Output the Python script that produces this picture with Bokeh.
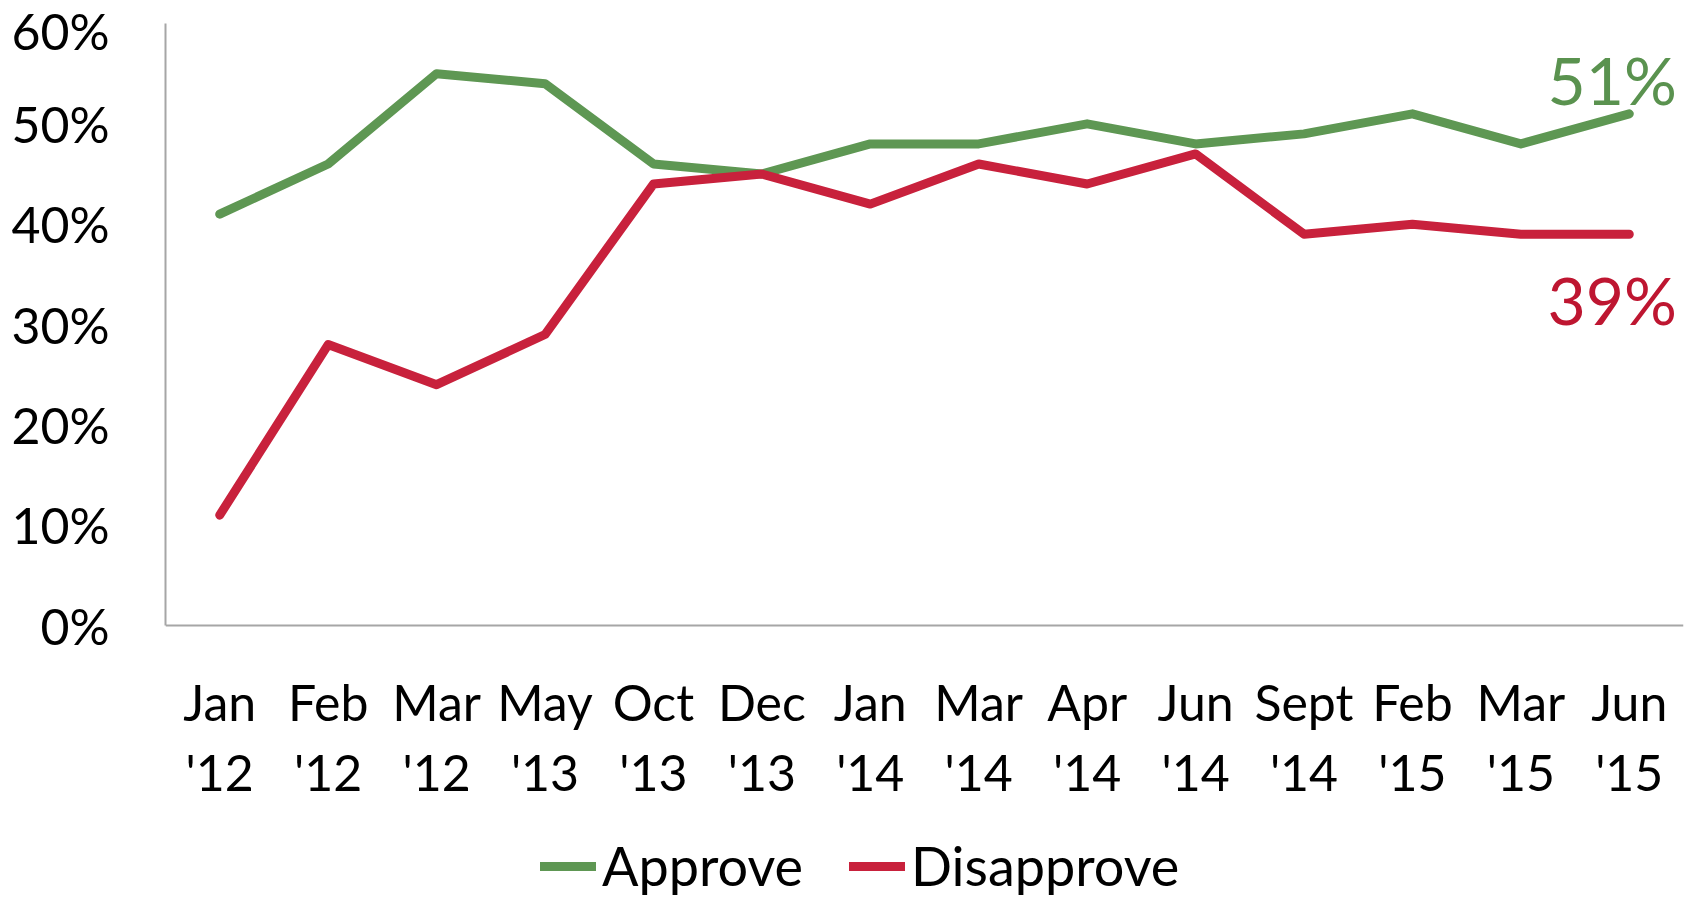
from bokeh.plotting import figure
from bokeh.models import Range1d, FixedTicker, PrintfTickFormatter, Legend, LegendItem
from bokeh.core.properties import value
from bokeh.embed import file_html
from bokeh.resources import INLINE

categories = ["Jan\n'12", "Feb\n'12", "Mar\n'12", "May\n'13", "Oct\n'13", "Dec\n'13",
              "Jan\n'14", "Mar\n'14", "Apr\n'14", "Jun\n'14", "Sept\n'14", "Feb\n'15",
              "Mar\n'15", "Jun\n'15"]
approve = [41, 46, 55, 54, 46, 45, 48, 48, 50, 48, 49, 51, 48, 51]
disapprove = [11, 28, 24, 29, 44, 45, 42, 46, 44, 47, 39, 40, 39, 39]
y_ticks = [0, 10, 20, 30, 40, 50, 60]

GREEN = "#5E9753"
RED = "#C8213C"
FONT = "Lato"

W, H = 1694, 900
TOP, LEFT, RIGHT = 23, 165, 11
AXIS_Y = 625          # pixel row of the 0% line
Y_MAX = 60
# frame runs to the bottom of the figure; extend the range below 0 accordingly
y_min = -(H - AXIS_Y) * Y_MAX / (AXIS_Y - TOP)

xs = list(range(len(categories)))

p = figure(width=W, height=H,
           x_range=Range1d(-0.5, len(categories) - 0.5), y_range=Range1d(y_min, Y_MAX),
           output_backend="svg", toolbar_location=None,
           min_border_left=LEFT, min_border_right=RIGHT, min_border_top=TOP, min_border_bottom=0)
p.outline_line_color = None
p.grid.visible = False
p.background_fill_color = "white"

r1 = p.line(xs, approve, line_color=GREEN, line_width=9, line_join="round", line_cap="round")
r2 = p.line(xs, disapprove, line_color=RED, line_width=9, line_join="round", line_cap="round")

# end labels
p.text([xs[-1]], [approve[-1]], text=[f"{approve[-1]}%"], text_font=value(FONT),
       text_font_size="66px", text_color="#5A924F", text_align="center",
       text_baseline="alphabetic", x_offset=-17, y_offset=-34)
p.text([xs[-1]], [disapprove[-1]], text=[f"{disapprove[-1]}%"], text_font=value(FONT),
       text_font_size="66px", text_color="#BE1631", text_align="center",
       text_baseline="alphabetic", x_offset=-17, y_offset=65)

# axes
xa = p.xaxis[0]
xa.fixed_location = 0
xa.ticker = FixedTicker(ticks=xs)
xa.major_label_overrides = {i: c for i, c in enumerate(categories)}
xa.axis_line_color = "#A6A6A6"
xa.axis_line_width = 2
xa.major_tick_line_color = None
xa.minor_tick_line_color = None
xa.major_label_text_font = FONT
xa.major_label_text_font_size = "50px"
xa.major_label_text_color = "black"
xa.major_label_standoff = 40
xa.major_label_text_line_height = 1.17

ya = p.yaxis[0]
ya.bounds = (0, Y_MAX)
ya.ticker = FixedTicker(ticks=y_ticks)
ya.formatter = PrintfTickFormatter(format="%d%%")
ya.axis_line_color = "#A6A6A6"
ya.axis_line_width = 2
ya.major_tick_line_color = None
ya.minor_tick_line_color = None
ya.major_label_text_font = FONT
ya.major_label_text_font_size = "50px"
ya.major_label_text_color = "black"
ya.major_label_standoff = 50

legend = Legend(items=[LegendItem(label="Approve", renderers=[r1]),
                       LegendItem(label="Disapprove", renderers=[r2])],
                orientation="horizontal", location=(375, 2),
                border_line_color=None, background_fill_alpha=0,
                padding=0, margin=0, spacing=46, label_standoff=6,
                glyph_width=56, glyph_height=40,
                label_text_font=FONT, label_text_font_size="54px",
                label_text_color="black")
p.add_layout(legend)

open("out.html", "w").write(file_html(p, INLINE))
